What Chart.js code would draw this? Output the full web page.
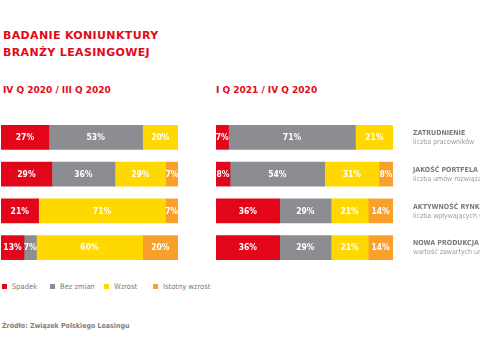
<!DOCTYPE html>
<html>
<head>
<meta charset="utf-8">
<script src="https://cdn.jsdelivr.net/npm/chart.js@4.4.1/dist/chart.umd.min.js"></script>
<style>
  html, body { margin: 0; padding: 0; background: #fff; }
  body { width: 480px; height: 350px; position: relative; overflow: hidden; font-family: "DejaVu Sans", sans-serif; }
  .title { position: absolute; left: 3px; top: 27px; color: #e20a18; font-weight: bold; font-size: 11px; line-height: 17px; letter-spacing: 0.35px; }
  .sub { position: absolute; top: 85px; color: #e20a18; font-weight: bold; font-size: 9px; }
  #leftWrap { position: absolute; left: 0; top: 119px; width: 180px; height: 147px; }
  #rightWrap { position: absolute; left: 215px; top: 119px; width: 265px; height: 147px; }
  .legend { position: absolute; top: 282px; left: 0; font-family: "DejaVu Sans Condensed", sans-serif; font-size: 7.5px; color: #7a7a7a; }
  .legend span.item { position: absolute; white-space: nowrap; }
  .legend i { position: absolute; top: 2px; width: 5px; height: 5px; }
  .source { position: absolute; left: 2px; top: 322px; font-family: "DejaVu Sans Condensed", sans-serif; font-size: 7px; color: #808080; font-weight: bold; white-space: nowrap; }
</style>
</head>
<body>
<div class="title">BADANIE KONIUNKTURY<br>BRANŻY LEASINGOWEJ</div>
<div class="sub" style="left:3px">IV Q 2020 / III Q 2020</div>
<div class="sub" style="left:216px">I Q 2021 / IV Q 2020</div>
<div id="leftWrap"><canvas id="leftChart"></canvas></div>
<div id="rightWrap"><canvas id="rightChart"></canvas></div>
<div class="legend" id="legend"></div>
<div class="source">Źródło: Związek Polskiego Leasingu</div>
<script>
// Categories and series
const categories = ['ZATRUDNIENIE', 'JAKOŚĆ PORTFELA', 'AKTYWNOŚĆ RYNKOWA', 'NOWA PRODUKCJA'];
const subLabels = ['liczba pracowników', 'liczba umów rozwiązanych', 'liczba wpływających wniosków', 'wartość zawartych umów'];
const seriesNames = ['Spadek', 'Bez zmian', 'Wzrost', 'Istotny wzrost'];
const seriesColors = ['#e2061b', '#8b8d90', '#ffd800', '#f8a02a'];

// IV Q 2020 / III Q 2020
const spadekQ4 = [27, 29, 21, 13];
const bezZmianQ4 = [53, 36, 0, 7];
const wzrostQ4 = [20, 29, 71, 60];
const istotnyQ4 = [0, 7, 7, 20];

// I Q 2021 / IV Q 2020
const spadekQ1 = [7, 8, 36, 36];
const bezZmianQ1 = [71, 54, 29, 29];
const wzrostQ1 = [21, 31, 21, 21];
const istotnyQ1 = [0, 8, 14, 14];

const legendPos = [2, 50, 104, 153];

// HTML legend
const legend = document.getElementById('legend');
seriesNames.forEach((name, i) => {
    const s = document.createElement('span');
    s.className = 'item';
    s.style.left = legendPos[i] + 'px';
    s.innerHTML = '<i style="left:0;background:' + seriesColors[i] + '"></i><span style="margin-left:10px">' + name + '</span>';
    legend.appendChild(s);
});

// values in percent labels inside bars
const barLabels = {
    id: 'barLabels',
    afterDatasetsDraw(chart) {
        const ctx = chart.ctx;
        ctx.save();
        ctx.font = 'bold 8.5px "DejaVu Sans Condensed", sans-serif';
        ctx.fillStyle = '#ffffff';
        ctx.textAlign = 'center';
        ctx.textBaseline = 'middle';
        chart.data.datasets.forEach((ds, di) => {
            const meta = chart.getDatasetMeta(di);
            meta.data.forEach((bar, i) => {
                const v = ds.raw[i];
                if (!v) return;
                ctx.fillText(v + '%', (bar.x + bar.base) / 2, bar.y + 0.5);
            });
        });
        ctx.restore();
    }
};

// category labels on the right side of the second chart
const sideLabels = {
    id: 'sideLabels',
    afterDraw(chart) {
        const ctx = chart.ctx;
        const y = chart.scales.y;
        const x0 = chart.chartArea.right + 20;
        ctx.save();
        ctx.textAlign = 'left';
        ctx.textBaseline = 'middle';
        categories.forEach((c, i) => {
            const py = y.getPixelForValue(i);
            ctx.font = 'bold 7px "DejaVu Sans Condensed", sans-serif';
            ctx.fillStyle = '#7b7b7b';
            ctx.fillText(c, x0, py - 4);
            ctx.font = '7px "DejaVu Sans Condensed", sans-serif';
            ctx.fillStyle = '#999999';
            ctx.fillText(subLabels[i], x0, py + 5);
        });
        ctx.restore();
    }
};

function makeChart(id, series, padRight, extraPlugins) {
    // each row is drawn as a share of its own total, so all bars end at the same edge
    const totals = categories.map((c, i) => series.reduce((s, arr) => s + arr[i], 0));
    const datasets = series.map((arr, si) => ({
        label: seriesNames[si],
        data: arr.map((v, i) => v / totals[i] * 100),
        raw: arr,
        backgroundColor: seriesColors[si],
        borderWidth: 0,
        barThickness: 24
    }));
    return new Chart(document.getElementById(id), {
        type: 'bar',
        data: { labels: categories, datasets: datasets },
        options: {
            indexAxis: 'y',
            responsive: true,
            maintainAspectRatio: false,
            animation: false,
            layout: { padding: { left: 1, right: padRight, top: 0, bottom: 0 } },
            plugins: { legend: { display: false }, tooltip: { enabled: false } },
            scales: {
                x: { stacked: true, display: false, min: 0, max: 100 },
                y: { stacked: true, display: false }
            }
        },
        plugins: [barLabels].concat(extraPlugins)
    });
}

makeChart('leftChart', [spadekQ4, bezZmianQ4, wzrostQ4, istotnyQ4], 2, []);
makeChart('rightChart', [spadekQ1, bezZmianQ1, wzrostQ1, istotnyQ1], 87, [sideLabels]);
</script>
</body>
</html>
